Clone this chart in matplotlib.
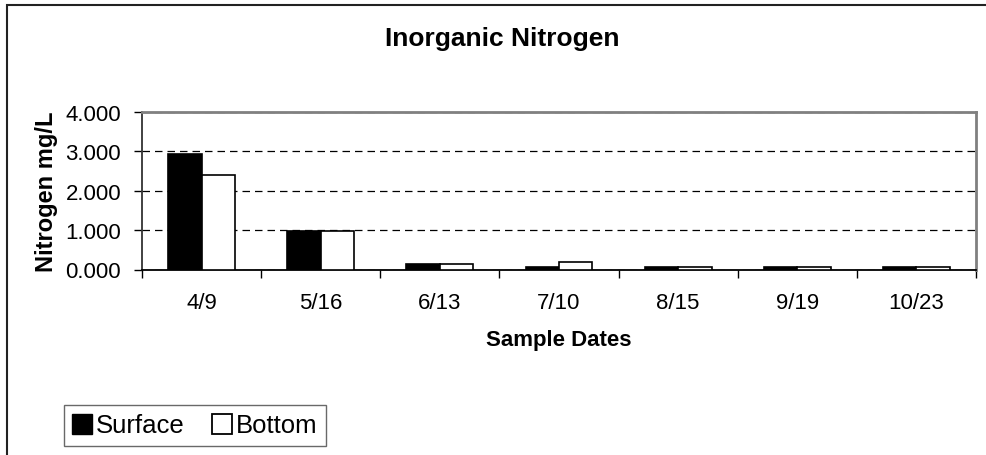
import matplotlib
matplotlib.use("Agg")
from matplotlib import pyplot as plt
from matplotlib.patches import Rectangle
from matplotlib.lines import Line2D
import numpy as np

fechas = ["4/9", "5/16", "6/13", "7/10", "8/15", "9/19", "10/23"]
superficie = [2.93, 0.97, 0.15, 0.07, 0.06, 0.06, 0.06]
fondo = [2.41, 0.98, 0.15, 0.18, 0.06, 0.06, 0.06]
yticks = [0, 1, 2, 3, 4]

plt.rcParams["font.family"] = ["Liberation Sans", "DejaVu Sans"]

fig = plt.figure(figsize=(9.87, 4.56), dpi=100)
ax = fig.add_axes([142 / 987, 1 - 270.5 / 456, (976 - 142) / 987, (270.5 - 113) / 456])

# marco del grafico completo
fig.patches.append(Rectangle((7 / 987, -0.1), 2, 1 - 6 / 456 + 0.1,
                             transform=fig.transFigure, fill=False,
                             edgecolor="#222222", linewidth=1.5, clip_on=False))

x = np.arange(len(fechas))
ancho = 0.28
ax.bar(x - ancho / 2, superficie, ancho, color="black", edgecolor="black",
       linewidth=1.2, zorder=3)
ax.bar(x + ancho / 2, fondo, ancho, color="white", edgecolor="black",
       linewidth=1.2, zorder=3)

ax.set_xlim(-0.5, len(fechas) - 0.5)
ax.set_ylim(0, 4)
ax.set_yticks(yticks)
ax.set_yticklabels(["%.3f" % v for v in yticks], fontsize=16)
ax.set_xticks(x)
ax.set_xticklabels(fechas, fontsize=16)
ax.set_xticks(np.arange(len(fechas) + 1) - 0.5, minor=True)
ax.tick_params(axis="x", which="major", length=0, pad=16.5)
ax.tick_params(axis="x", which="minor", length=6, width=1, direction="out")
ax.tick_params(axis="y", length=6, width=1, direction="out", pad=9)

ax.yaxis.grid(True, linestyle=(0, (6, 4)), color="black", linewidth=0.9)
ax.set_axisbelow(True)

ax.spines["left"].set_color("#333333")
ax.spines["bottom"].set_color("black")
ax.spines["top"].set_color("#808080")
ax.spines["right"].set_color("#808080")
for s in ["top", "right"]:
    ax.spines[s].set_linewidth(2)
for s in ["left", "bottom"]:
    ax.spines[s].set_linewidth(1.3)

fig.text(502 / 987, 1 - 46 / 456, "Inorganic Nitrogen", ha="center", va="baseline",
         fontsize=19, fontweight="bold")
ax.set_xlabel("Sample Dates", fontsize=16, fontweight="bold")
ax.xaxis.set_label_coords(0.5, (270.5 - 330) / 157.5)
ax.set_ylabel("Nitrogen mg/L", fontsize=17, fontweight="bold")
ax.yaxis.set_label_coords((58 - 142) / 834, 0.5)

handles = [Line2D([], [], marker="s", linestyle="none", markersize=14,
                  markerfacecolor="black", markeredgecolor="black"),
           Line2D([], [], marker="s", linestyle="none", markersize=14,
                  markerfacecolor="white", markeredgecolor="black", markeredgewidth=1.3)]
leg = fig.legend(handles, ["Surface", "Bottom"], loc="center",
                 bbox_to_anchor=(195 / 987, 1 - 426.5 / 456), ncol=2, fontsize=18.5,
                 frameon=True, fancybox=False, edgecolor="#444444",
                 handlelength=0.7, handletextpad=0.2, columnspacing=1.1,
                 borderpad=0.35)
leg.get_frame().set_linewidth(1)

fig.savefig("out.png", dpi=100)
